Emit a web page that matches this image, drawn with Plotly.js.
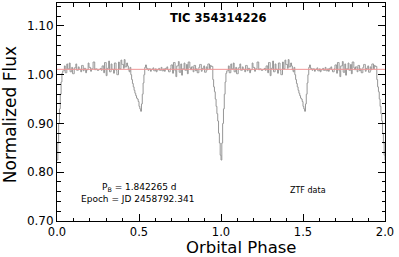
<!DOCTYPE html>
<html>
<head>
<meta charset="utf-8">
<script src="https://cdn.plot.ly/plotly-3.0.1.min.js"></script>
<style>html,body{margin:0;padding:0;background:#fff;}#chart{width:399px;height:257px;}</style>
</head>
<body>
<div id="chart"></div>
<script>
// Phase-binned flux for one orbital cycle, bins of 0.005 in phase (0.000 .. 0.995)
const binWidth = 0.005;
const egressPrimary = [0.825, 0.860, 0.900, 0.930, 0.960, 0.985, 1.003];            // 0.000-0.030
const outOfEclipseA = [                                                              // 0.035-0.445
  1.008, 1.008, 1.018, 1.004, 1.004, 1.022, 1.012, 1.012, 1.024, 1.006,
  1.006, 1.015, 1.002, 1.002, 1.014, 1.014, 1.022, 1.009, 1.009, 1.016,
  1.011, 1.011, 1.006, 1.019, 1.019, 1.008, 1.013, 1.013, 1.004, 1.010,
  1.010, 1.024, 1.015, 1.015, 1.007, 1.012, 1.012, 1.026, 1.026, 1.010,
  1.012, 1.012, 1.009, 1.009, 1.011, 1.011, 1.013, 1.009,
  1.018, 1.018, 1.004, 1.025, 1.025, 0.998, 1.013, 1.013, 1.028, 1.006,
  1.006, 1.022, 1.011, 1.011, 1.003, 1.024, 1.024, 1.009, 1.000, 1.000,
  1.026, 1.012, 1.012, 1.030, 1.021, 1.021, 1.013, 1.031, 1.016, 1.016,
  1.024, 1.018, 1.010, 1.006, 1.015
];
const secondaryEclipse = [                                                           // 0.450-0.540
  1.000, 0.990, 0.982, 0.975, 0.968, 0.962, 0.957, 0.952, 0.950, 0.945,
  0.935, 0.930, 0.925, 0.940, 0.960, 0.983, 1.000, 1.015, 1.020
];
const outOfEclipseB = [                                                              // 0.545-0.945
  1.013, 1.013, 1.009, 1.012, 1.012, 1.007, 1.011, 1.011, 1.014, 1.008,
  1.008, 1.012, 1.006, 1.010, 1.010, 1.013, 1.009, 1.009, 1.015, 1.008,
  1.008, 1.012, 1.007, 1.013, 1.013, 1.016, 1.010, 1.006, 1.006, 1.012,
  1.020, 1.020, 1.003, 1.025, 1.025, 1.008, 0.996, 1.018, 1.018, 1.027,
  1.005, 1.005, 1.022, 0.999, 1.012, 1.012, 1.024, 1.009, 1.009, 1.021,
  1.002, 1.026, 1.026, 1.014,
  1.010, 1.016, 1.016, 1.006, 1.019, 1.019, 1.008, 1.012, 1.004, 1.004,
  1.015, 1.021, 1.021, 1.007, 1.013, 1.013, 1.018, 1.005, 1.005, 1.016,
  1.010, 1.022, 1.022, 1.012, 1.019, 1.017, 1.017
];
const ingressPrimary = [0.990, 0.975, 0.965, 0.950, 0.935, 0.920, 0.905, 0.880, 0.860, 0.835]; // 0.950-0.995

const fluxOneCycle = [].concat(egressPrimary, outOfEclipseA, secondaryEclipse, outOfEclipseB, ingressPrimary);
const meanLevel = 1.011;
const xTickVals = [0, 0.5, 1.0, 1.5, 2.0];
const xTickText = ["0.0", "0.5", "1.0", "1.5", "2.0"];
const yTickVals = [0.70, 0.80, 0.90, 1.00, 1.10];
const yTickText = ["0.70", "0.80", "0.90", "1.00", "1.10"];

// Folded curve drawn for two cycles plus closing point at phase 2
const xs = [], ys = [];
for (let c = 0; c < 2; c++) {
  for (let i = 0; i < fluxOneCycle.length; i++) {
    xs.push(+(i * binWidth + c).toFixed(3));
    ys.push(fluxOneCycle[i]);
  }
}
xs.push(2.0); ys.push(fluxOneCycle[0]);

const FONT = "DejaVu Sans, Verdana, sans-serif";

const traces = [
  {x: xs, y: ys, mode: "lines", type: "scatter",
   line: {color: "rgb(150,150,150)", width: 1, shape: "hv"}, hoverinfo: "skip"},
  {x: [0, 2], y: [meanLevel, meanLevel], mode: "lines", type: "scatter",
   line: {color: "rgb(240,150,150)", width: 1}, hoverinfo: "skip"}
];

const axisCommon = {
  showgrid: false, zeroline: false, showline: true, linecolor: "#000", linewidth: 1,
  mirror: "ticks", ticks: "inside", ticklen: 7, tickwidth: 1, tickcolor: "#000",
  tickfont: {family: FONT, size: 12, color: "#000"}
};

const layout = {
  width: 399, height: 257,
  margin: {l: 57, r: 14, t: 3, b: 36, pad: 0},
  paper_bgcolor: "#fff", plot_bgcolor: "#fff",
  showlegend: false,
  xaxis: Object.assign({}, axisCommon, {
    range: [0, 2], tickvals: xTickVals, ticktext: xTickText,
    tickfont: {family: FONT, size: 11.5, color: "#000"},
    minor: {dtick: 0.1, ticks: "inside", ticklen: 3.5, tickcolor: "#000", tickwidth: 1, showgrid: false}
  }),
  yaxis: Object.assign({}, axisCommon, {
    range: [0.70, 1.147], tickvals: yTickVals, ticktext: yTickText,
    minor: {dtick: 0.02, ticks: "inside", ticklen: 3.5, tickcolor: "#000", tickwidth: 1, showgrid: false}
  }),
  annotations: [
    {text: "TIC 354314226", xref: "paper", yref: "paper", x: 0.492, y: 0.931,
     xanchor: "center", yanchor: "middle",
     showarrow: false, font: {family: FONT, size: 11.5, color: "#000", weight: "bold"}},
    {text: "P<sub>B</sub> = 1.842265 d", xref: "x", yref: "y", x: 0.5, y: 0.769,
     xanchor: "center", yanchor: "middle",
     showarrow: false, font: {family: FONT, size: 9, color: "#000"}},
    {text: "Epoch = JD 2458792.341", xref: "x", yref: "y", x: 0.49, y: 0.7446,
     xanchor: "center", yanchor: "middle",
     showarrow: false, font: {family: FONT, size: 9, color: "#000"}},
    {text: "ZTF data", xref: "x", yref: "y", x: 1.53, y: 0.7616,
     xanchor: "center", yanchor: "middle",
     showarrow: false, font: {family: FONT, size: 8, color: "#000"}},
    {text: "Orbital Phase", xref: "paper", yref: "paper", x: 0.561, y: -0.121,
     xanchor: "center", yanchor: "middle", showarrow: false,
     font: {family: FONT, size: 16.5, color: "#000"}},
    {text: "Normalized Flux", xref: "paper", yref: "paper", x: -0.143, y: 0.486,
     textangle: -90, xanchor: "center", yanchor: "middle", showarrow: false,
     font: {family: FONT, size: 17, color: "#000"}}
  ]
};

Plotly.newPlot("chart", traces, layout, {staticPlot: true, displayModeBar: false});
</script>
</body>
</html>
